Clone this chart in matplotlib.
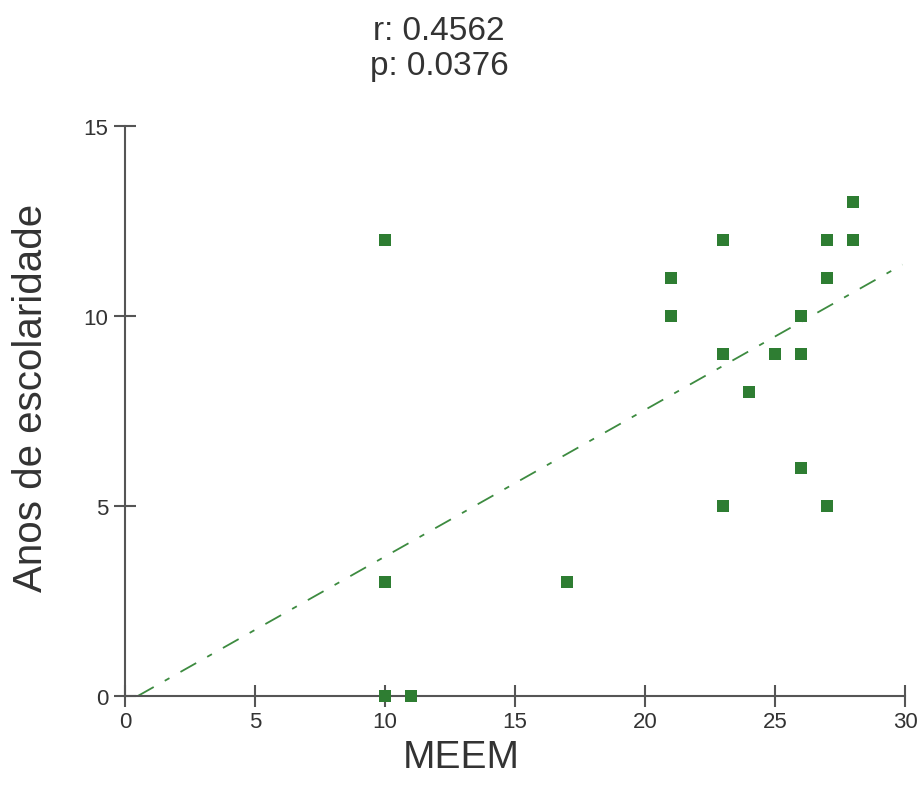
import matplotlib.pyplot as plt
import numpy as np

plt.rcParams['font.family'] = ['Liberation Sans', 'DejaVu Sans']

# MEEM score vs years of schooling
meem = [10, 10, 10, 11, 17, 21, 21, 23, 23, 23, 24, 25, 26, 26, 26, 27, 27, 27, 28, 28]
anos = [12, 3, 0, 0, 3, 11, 10, 12, 9, 5, 8, 9, 10, 9, 6, 12, 11, 5, 13, 12]

# trend line as drawn in the reference
fit_slope = 0.386
fit_intercept = -0.19
fit_range = [0.5, 29.9]

r_value = 0.4562
p_value = 0.0376

x_ticks = [0, 5, 10, 15, 20, 25, 30]
y_ticks = [0, 5, 10, 15]

green = '#2e7d32'
axis_col = '#555555'
text_col = '#333333'

fig = plt.figure(figsize=(9.23, 8.03), dpi=100)
ax = fig.add_axes([125 / 923, 1 - 697 / 803, 780 / 923, 570 / 803])

xs = np.array(fit_range)
ax.plot(xs, fit_slope * xs + fit_intercept, color='#3d8b40', lw=1.3,
        linestyle=(0, (10, 7, 3, 7)), zorder=2)

ax.scatter(meem, anos, marker='s', s=64, color=green, linewidths=0,
           zorder=5, clip_on=False)

ax.set_xlim(0, 30)
ax.set_ylim(0, 15)
ax.set_xticks(x_ticks)
ax.set_yticks(y_ticks)

for side in ['top', 'right']:
    ax.spines[side].set_visible(False)
for side in ['left', 'bottom']:
    ax.spines[side].set_color(axis_col)
    ax.spines[side].set_linewidth(1.5)

ax.tick_params(direction='inout', length=16, width=1.5, color=axis_col,
               labelsize=16, labelcolor=text_col)
ax.tick_params(axis='y', pad=4)
ax.tick_params(axis='x', pad=3)

fig.text(0.5, 1 - 758 / 803, 'MEEM', ha='center', va='center',
         fontsize=28, color=text_col)
fig.text(31 / 923, 1 - 398 / 803, 'Anos de escolaridade', ha='center', va='center',
         rotation=90, fontsize=29, color=text_col)
fig.text(439 / 923, 1 - 49 / 803, f'r: {r_value:.4f}\np: {p_value:.4f}',
         ha='center', va='center', fontsize=24, color=text_col, linespacing=1.15)

fig.savefig('out.png', dpi=100, facecolor='white')
